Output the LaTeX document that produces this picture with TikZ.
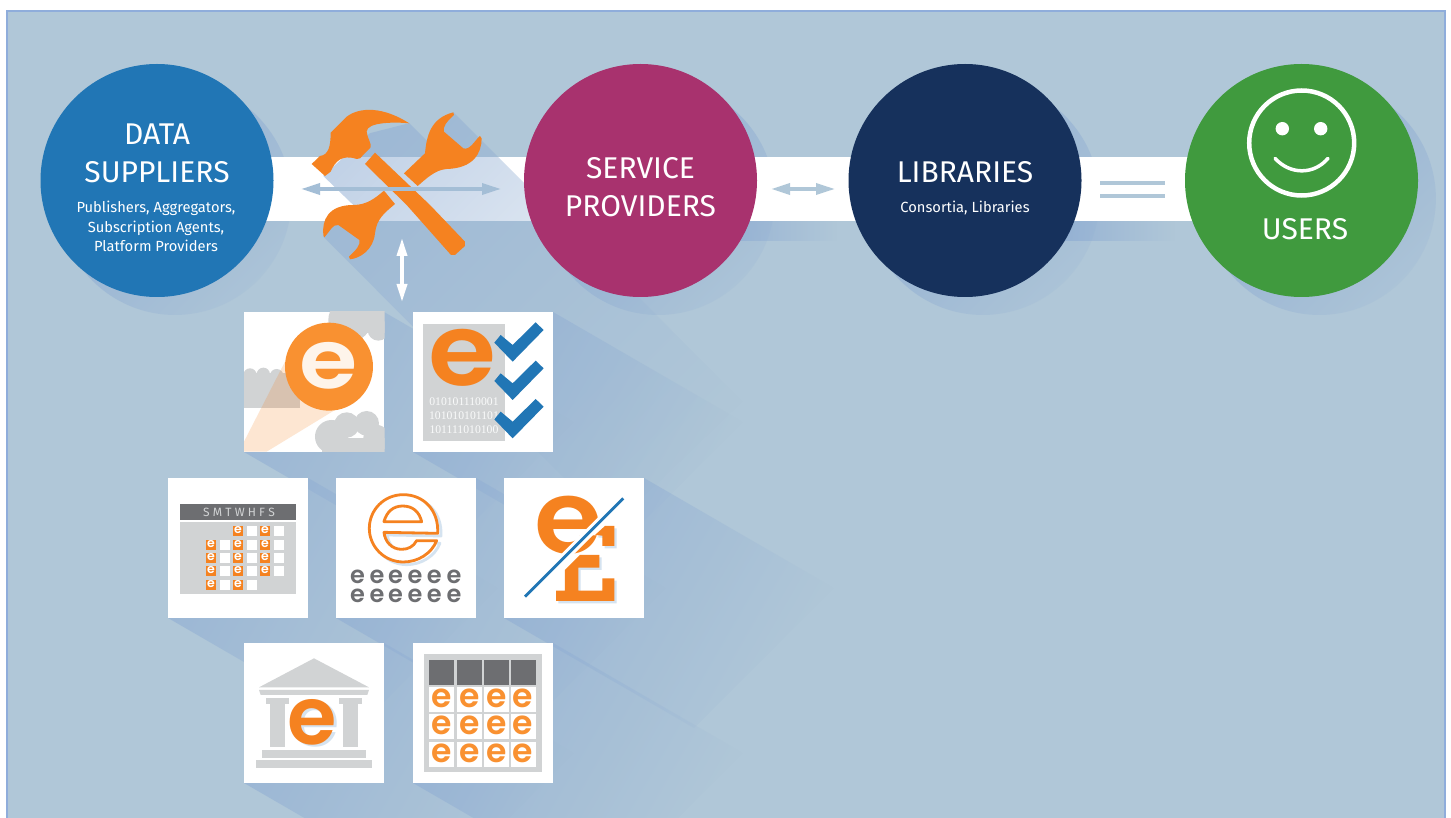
\documentclass[tikz,border=0pt]{standalone}
\usepackage{fontspec}
\setmainfont{Fira Sans}
\newfontfamily\logofont{Poppins}[BoldFont=* SemiBold]
\newfontfamily\binfont{Liberation Serif}
\usepackage{tikz}
\usetikzlibrary{arrows.meta,fadings}

\definecolor{panelblue}{HTML}{B0C7D8}
\definecolor{frameblue}{HTML}{8FADDB}
\definecolor{fallblue}{HTML}{8FADD3}
\definecolor{paleblue}{HTML}{D5E3F0}
\definecolor{suppliers}{HTML}{2176B5}
\definecolor{providers}{HTML}{A8326E}
\definecolor{libraries}{HTML}{16315C}
\definecolor{users}{HTML}{409A3E}
\definecolor{logoorange}{HTML}{F58220}
\definecolor{softorange}{HTML}{F99131}
\definecolor{lightgrey}{HTML}{D1D3D4}
\definecolor{darkgrey}{HTML}{6D6E71}

\newcommand{\esize}[1]{\fontsize{#1}{#1}\selectfont\logofont\bfseries}
\newcommand{\tsize}[1]{\fontsize{#1}{#1}\selectfont}

\tikzfading[name=longfall, left color=transparent!40, right color=transparent!100]
\tikzfading[name=toolfall, left color=transparent!45, middle color=transparent!55, right color=transparent!100]
\tikzfading[name=roundfall, left color=transparent!0, middle color=transparent!10, right color=transparent!90]
\tikzfading[name=bandfall, left color=transparent!10, right color=transparent!100]

\tikzset{
	fall/.style 2 args={fallblue, path fading=#2, rotate around={#1:(0,0)}, transform canvas={rotate around={-#1:(0,0)}}},
	zoomed/.style 2 args={shift={(#1,#2)}, x=0.3333pt, y=-0.3333pt}
}

\begin{document}
\begin{tikzpicture}[x=1pt, y=-1pt, >={Triangle[length=19pt, width=11pt]}]
		\tikzstyle{party} = [circle, minimum size=233pt, inner sep=0pt]
		\tikzstyle{tile} = [fill=white, minimum size=140pt, inner sep=0pt]
		\tikzstyle{big} = [text=white, font=\tsize{30}]
		\tikzstyle{small} = [text=white, font=\tsize{14.7}]
		\tikzstyle{elogo} = [inner sep=0pt]
		\tikzstyle{gridcell} = [fill=white]

		\useasboundingbox (0,0) rectangle (1451,818);
		\fill[white] (0,0) rectangle (1451,818);
		\fill[panelblue, draw=frameblue, line width=2pt] (7,11) rectangle (1445,830);

		% round shadows behind the parties
		\foreach \cx in {157,640.5,965,1301.5}
			\fill[fall={45}{roundfall}] (\cx+18,198.5) circle (116.5);

		% long shadows of the tiles
		\foreach \tx/\ty in {244/312,413/312,168/478,336/478,504/478,244/643,413/643}
			\fill[fall={30}{longfall}] (\tx,\ty+140) -- (\tx+140,\ty) -- (\tx+140+190,\ty+110) -- (\tx+190,\ty+250) -- cycle;

		% band
		\fill[white] (260,157) rectangle (1200,221);
		\fill[fall={0}{bandfall}] (700,221) rectangle (837,241);
		\fill[fall={0}{bandfall}] (1040,221) rectangle (1175,241);

		% long shadow of the tools
		\fill[fall={45}{toolfall}] (323.3,236.7) -- (353.3,205) -- (323.3,176) -- (370,133.3) -- (409.3,123.3) -- (426.7,140.7) -- (453.3,112.3) -- (743,402) -- (613,527) -- cycle;

		% parties
		\path
		node[party, fill=suppliers] (data) at (157,180.5) {}
		node[party, fill=providers, right of=data, node distance=483.5pt] (service) {}
		node[party, fill=libraries, right of=service, node distance=324.5pt] (libs) {}
		node[party, fill=users, right of=libs, node distance=336.5pt] (users) {}
		;

		\node[big] (datalabel) at (157,134) {DATA};
		\node[big] (supplierlabel) at (157,172) {SUPPLIERS};
		\node[small] (publabel) at (156,208) {Publishers, Aggregators,};
		\node[small] (sublabel) at (156,228) {Subscription Agents,};
		\node[small] (platlabel) at (156,246) {Platform Providers};
		\node[big] (servicelabel) at (640.5,168) {SERVICE};
		\node[big] (providerlabel) at (640.5,206) {PROVIDERS};
		\node[big] (libslabel) at (965,172) {LIBRARIES};
		\node[small] (conslabel) at (965,208) {Consortia, Libraries};
		\node[big] (userslabel) at (1305,229) {USERS};

		% smiley
		\draw[white, line width=4.5pt] (1301.7,143) circle (52.5);
		\fill[white] (1282.3,128.7) circle (6.7);
		\fill[white] (1320.7,128.7) circle (6.7);
		\draw[white, line width=3.5pt, line cap=round] (1275,158.3) .. controls (1290,175) and (1314,175) .. (1328,158.3);

		% tools
		\begin{scope}[zoomed={270}{90}]
		\fill[logoorange] (125,222) -- (150,198) .. controls (175,195) and (182,170) .. (182,128) -- (230,80) .. controls (270,50) and (340,50) .. (418,100) .. controls (380,96) and (290,95) .. (290,125) .. controls (292,145) and (305,160) .. (302,172) -- (270,205) -- (260,207) .. controls (215,192) and (195,215) .. (182,245) -- (165,258) -- cycle;
		\fill[logoorange] (315,188) -- (480,345) -- (585,455) -- (585,468) -- (555,495) -- (543,495) -- (410,345) -- (285,222) -- cycle;
		\fill[logoorange] (402,250) -- (465,190) .. controls (470,140) and (480,85) .. (550,67) -- (552,75) .. controls (530,95) and (518,110) .. (522,125) -- (580,175) .. controls (600,182) and (615,150) .. (630,138) -- (635,145) .. controls (635,190) and (610,235) .. (530,237) .. controls (495,240) and (470,265) .. (443,288) -- cycle;
		\fill[logoorange] (342,302) -- (375,342) .. controls (345,368) and (320,385) .. (315,430) .. controls (310,480) and (270,505) .. (240,508) -- (237,500) .. controls (260,478) and (272,465) .. (268,450) -- (205,405) .. controls (190,400) and (175,430) .. (163,442) -- (160,436) .. controls (155,390) and (175,345) .. (250,345) .. controls (290,345) and (315,325) .. (342,302) -- cycle;
		\end{scope}

		% connectors
		\coordinate (toolsw) at (301,189);
		\coordinate (toolse) at (501,189);
		\coordinate (servicee) at (771,189);
		\coordinate (libsw) at (835,189);
		\coordinate (libse1) at (1100,183);
		\coordinate (usersw1) at (1165,183);
		\coordinate (libse2) at (1100,196);
		\coordinate (usersw2) at (1165,196);
		\coordinate (toolss) at (402,238);
		\coordinate (tiless) at (402,302);
		\path[<->, line width=3.5pt]
		(toolsw) edge[color=fallblue!35!panelblue] (toolse)
		(servicee) edge[panelblue] (libsw)
		(toolss) edge[white, >={Triangle[length=18pt, width=10pt]}] (tiless)
		;
		\path[line width=3.5pt, panelblue]
		(libse1) edge (usersw1)
		(libse2) edge (usersw2)
		;

		% tiles
		\path
		node[tile] (cloud) at (314,382) {}
		node[tile, right of=cloud, node distance=169pt] (check) {}
		node[tile] (calendar) at (238,548) {}
		node[tile, right of=calendar, node distance=168pt] (outline) {}
		node[tile, right of=outline, node distance=168pt] (pound) {}
		node[tile] (temple) at (314,713) {}
		node[tile, right of=temple, node distance=169pt] (table) {}
		;

		% cloud tile
		\begin{scope}[zoomed={235}{305}]
		\begin{scope}
		\clip (27,20) rectangle (449,440);
		\foreach \bx/\by/\br in {345/45/65,430/75/32,45/210/20,85/208/20,125/212/20,290/395/50,335/360/38,395/355/37,425/400/40}
			\fill[lightgrey] (\bx,\by) circle (\br);
		\fill[lightgrey] (300,18) rectangle (449,85);
		\fill[lightgrey] (27,205) rectangle (195,310);
		\fill[lightgrey] (260,400) rectangle (449,440);
		\fill[logoorange, opacity=0.2] (150,170) -- (27,410) -- (27,440) -- (95,440) -- (300,315) -- cycle;
		\end{scope}
		\fill[softorange] (282,185) circle (132);
		\node[elogo, text=white!90!softorange, xscale=1.15, font=\esize{82}] (cloude) at (281,182) {e};
		\end{scope}

		% check tile
		\begin{scope}[zoomed={235}{305}]
		\fill[lightgrey] (564,57) rectangle (810,408);
		\node[elogo, text=logoorange, xscale=1.1, font=\esize{100}] (checke) at (683,158) {e};
		\foreach \i/\bits/\ly in {1/010101110001/291,2/101010101101/333,3/101111010100/375}
			\node[elogo, text=white!90!lightgrey, font=\binfont\tsize{11.7}] (bits\i) at (687,\ly) {\bits};
		\end{scope}
		\begin{scope}[zoomed={380}{280}]
		\foreach \dy in {0,115,230}
			\fill[suppliers] (343,188+\dy) -- (362,165+\dy) -- (398,195+\dy) -- (467,127+\dy) -- (491,150+\dy) -- (398,245+\dy) -- cycle;
		\end{scope}

		% calendar tile
		\begin{scope}[zoomed={160}{470}]
		\fill[darkgrey] (60,102) rectangle (408,150);
		\node[elogo, text=lightgrey, font=\tsize{12}] (days) at (237,127) {S M T W H F S};
		\fill[lightgrey] (60,156) rectangle (408,372);
		\foreach \cx/\cy/\cid in {219/168/a,300/168/b,138/210/c,219/210/d,300/210/e,138/249/f,219/249/g,300/249/h,138/288/i,219/288/j,300/288/k,138/330/l,219/330/m} {
			\fill[logoorange] (\cx,\cy) rectangle (\cx+30,\cy+30);
			\fill[gridcell] (\cx+42,\cy) rectangle (\cx+72,\cy+30);
			\node[elogo, text=white, font=\esize{12.5}] (day\cid) at (\cx+15,\cy+13) {e};
		}
		\end{scope}

		% outline tile
		\begin{scope}[zoomed={160}{470}]
		\foreach \ox/\oy/\ocol in {10/8/paleblue,0/0/logoorange} {
			\begin{scope}[shift={(\ox,\oy)}]
			\draw[\ocol, fill=white, line width=2.8pt, line join=round] (833,190) .. controls (837,120) and (790,74) .. (730,74) .. controls (672,74) and (628,120) .. (628,175) .. controls (628,232) and (675,276) .. (730,276) .. controls (775,276) and (815,250) .. (830,212) -- (770,212) .. controls (760,230) and (745,238) .. (725,238) .. controls (695,238) and (675,215) .. (672,187) -- cycle;
			\draw[\ocol, fill=white, line width=2.8pt, line join=round] (672,155) .. controls (680,125) and (700,108) .. (728,108) .. controls (758,108) and (778,125) .. (785,155) -- cycle;
			\end{scope}
		}
		\foreach \ey/\er in {325/a,380/b}
			\foreach \ex/\ec in {593/1,651/2,707/3,765/4,823/5,882/6}
				\node[elogo, text=darkgrey, font=\esize{24}] (small\er\ec) at (\ex,\ey-3) {e};
		\end{scope}

		% pound tile
		\begin{scope}[zoomed={495}{470}]
		\foreach \ox/\ocol in {7/paleblue,0/logoorange}
			\fill[\ocol, shift={(\ox,\ox)}] (183,393) -- (183,362) -- (210,362) -- (210,300) -- (255,255) -- (313,255) -- (313,293) -- (250,293) -- (250,362) -- (322,362) -- (322,325) -- (358,325) -- (358,393) -- cycle (300,195) -- (330,168) -- (358,168) -- (358,228) -- (322,228) -- (322,197) -- cycle;
		\node[elogo, text=logoorange, xscale=1.08, font=\esize{102}] (poundedge) at (219,165) {e};
		\draw[white, line width=9pt] (90,380) -- (385,85);
		\draw[suppliers, line width=2.8pt] (90,380) -- (385,85);
		\end{scope}

		% temple tile
		\begin{scope}[zoomed={235}{635}]
		\fill[lightgrey] (72,157) -- (237,70) -- (402,157) -- cycle;
		\fill[lightgrey] (72,165) -- (402,165) -- (397,180) -- (77,180) -- cycle;
		\foreach \px in {93,312} {
			\fill[lightgrey] (\px,189) rectangle (\px+69,207);
			\fill[lightgrey] (\px+13,207) rectangle (\px+56,335);
		}
		\fill[lightgrey] (81,345) rectangle (393,368);
		\fill[lightgrey] (63,375) rectangle (411,399);
		\node[elogo, text=paleblue, font=\esize{80}] (templeshade) at (240,267) {e};
		\node[elogo, text=logoorange, font=\esize{80}] (templee) at (233,262) {e};
		\end{scope}

		% table tile
		\begin{scope}[zoomed={235}{635}]
		\fill[lightgrey] (567,57) rectangle (921,411);
		\foreach \cx/\cw/\col in {582/75/1,666/75/2,747/75/3,827/76/4} {
			\fill[darkgrey] (\cx,75) rectangle (\cx+\cw,150);
			\foreach \cy/\row in {156/1,237/2,321/3} {
				\fill[gridcell] (\cx,\cy) rectangle (\cx+\cw,\cy+75);
				\node[elogo, text=softorange, font=\esize{33}] (cell\row\col) at (\cx+37,\cy+34) {e};
			}
		}
		\end{scope}
		\end{tikzpicture}
\end{document}
